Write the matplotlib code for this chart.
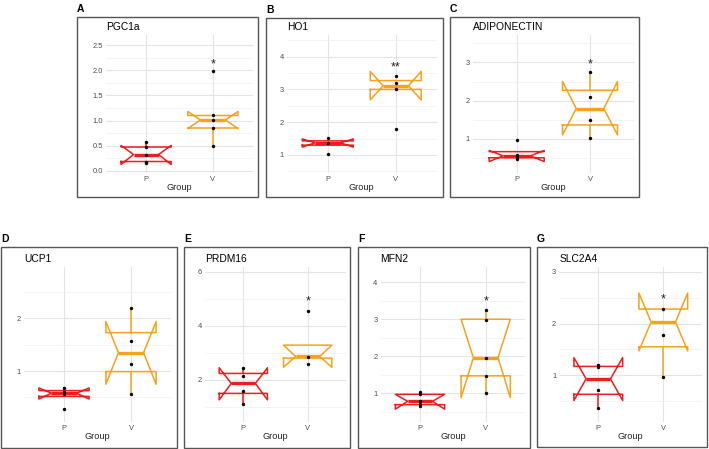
import matplotlib
matplotlib.use('Agg')
import matplotlib.pyplot as plt
import matplotlib.ticker as tic
from matplotlib.patches import Rectangle

plt.rcParams['font.family'] = ['Liberation Sans', 'DejaVu Sans']

# ---- data ----
letters = ['A', 'B', 'C', 'D', 'E', 'F', 'G']
genes = ['PGC1a', 'HO1', 'ADIPONECTIN', 'UCP1', 'PRDM16', 'MFN2', 'SLC2A4']
groups = ['P', 'V']

p_points = [[0.15, 0.17, 0.32, 0.48, 0.58],
            [1.02, 1.37, 1.53],
            [0.47, 0.52, 0.57, 0.97],
            [0.29, 0.57, 0.61, 0.68],
            [1.09, 1.58, 2.15, 2.44],
            [0.65, 0.72, 0.78, 0.97, 1.02],
            [0.37, 0.72, 1.15, 1.19]]
v_points = [[0.50, 0.85, 1.01, 1.10, 1.98],
            [1.78, 3.00, 3.20, 3.41],
            [1.01, 1.49, 2.10, 2.75],
            [0.56, 1.13, 1.58, 2.19],
            [2.57, 2.85, 4.54],
            [1.00, 1.47, 1.96, 2.98, 3.25],
            [0.97, 1.77, 2.28]]

# box stats: whislo, q1, med, q3, whishi, notch low, notch high
p_box = [(0.15, 0.18, 0.32, 0.47, 0.58, 0.12, 0.50),
         (1.30, 1.30, 1.37, 1.43, 1.43, 1.24, 1.49),
         (0.50, 0.50, 0.55, 0.66, 0.66, 0.40, 0.69),
         (0.52, 0.52, 0.58, 0.63, 0.68, 0.47, 0.68),
         (1.09, 1.49, 1.86, 2.23, 2.44, 1.25, 2.44),
         (0.69, 0.69, 0.78, 0.97, 0.97, 0.57, 0.97),
         (0.37, 0.63, 0.93, 1.17, 1.19, 0.51, 1.34)]
v_box = [(0.50, 0.85, 1.01, 1.10, 1.10, 0.84, 1.18),
         (3.00, 3.00, 3.11, 3.27, 3.27, 2.68, 3.55),
         (1.01, 1.36, 1.79, 2.27, 2.75, 1.10, 2.50),
         (0.56, 0.99, 1.35, 1.73, 2.19, 0.75, 1.94),
         (2.80, 2.80, 2.86, 3.28, 3.28, 2.46, 3.28),
         (1.00, 1.47, 1.96, 3.00, 3.25, 0.88, 3.00),
         (0.97, 1.55, 2.03, 2.28, 2.28, 1.47, 2.59)]

stars = ['*', '**', '*', '', '*', '*', '*']
star_y = [2.13, 3.66, 2.95, 0, 4.89, 3.48, 2.46]

y_lims = [(-0.05, 2.71), (0.45, 4.66), (0.10, 3.72), (0.04, 2.98),
          (0.44, 6.19), (0.23, 4.42), (0.10, 3.10)]
y_step = [0.5, 1, 1, 1, 2, 1, 1]
y_fmt = ['%.1f', '%d', '%d', '%d', '%d', '%d', '%d']

# ---- layout (pixels) ----
W, H = 709, 449
frames = [(77, 17, 258, 197), (266, 18, 443, 197), (450, 17, 639, 197),
          (1, 247, 177, 448), (184, 247, 350, 448), (358, 247, 530, 448),
          (537, 247, 707, 447)]
ax_x = [(106, 253), (287, 436.5), (472.7, 634), (23.8, 171.2),
        (204.7, 346.3), (380.6, 525.1), (559.3, 702.3)]
ax_y = [(35, 173)] * 3 + [(266.7, 421.7)] * 4

colors = ['#ee1c1c', '#f7a21b']

fig = plt.figure(figsize=(W / 100, H / 100), dpi=100)

for i in range(len(genes)):
    x0, x1 = ax_x[i]
    y0, y1 = ax_y[i]
    ax = fig.add_axes([x0 / W, 1 - y1 / H, (x1 - x0) / W, (y1 - y0) / H])

    for k, (box, pts) in enumerate([(p_box[i], p_points[i]), (v_box[i], v_points[i])]):
        lo, q1, med, q3, hi, clo, chi = box
        st = [dict(whislo=lo, q1=q1, med=med, q3=q3, whishi=hi,
                   cilo=clo, cihi=chi, fliers=[], label=groups[k])]
        c = colors[k]
        ax.bxp(st, positions=[k + 1], widths=0.75, shownotches=True,
               showcaps=False, showfliers=False, manage_ticks=False,
               boxprops=dict(color=c, lw=1.1),
               whiskerprops=dict(color=c, lw=1.1),
               medianprops=dict(color=c, lw=2.4, solid_capstyle='butt'))
        ax.scatter([k + 1] * len(pts), pts, s=6, color='black', zorder=5,
                   linewidths=0)

    if stars[i]:
        ax.text(2, star_y[i], stars[i], ha='center', va='center',
                fontsize=9, color='#222222')

    ax.set_xlim(0.4, 2.6)
    ax.set_ylim(y_lims[i])
    ax.set_xticks([1, 2])
    ax.set_xticklabels(groups)
    ax.yaxis.set_major_locator(tic.MultipleLocator(y_step[i]))
    ax.yaxis.set_minor_locator(tic.MultipleLocator(y_step[i] / 2))
    ax.yaxis.set_major_formatter(tic.FormatStrFormatter(y_fmt[i]))
    ax.grid(True, which='major', color='#e4e4e4', lw=0.8)
    ax.grid(True, which='minor', axis='y', color='#efefef', lw=0.5)
    ax.set_axisbelow(True)
    for s in ax.spines.values():
        s.set_visible(False)
    ax.tick_params(which='both', length=0, labelsize=5.4,
                   labelcolor='#4d4d4d', pad=2.2)

    # panel frame, title, letter and x label
    fx0, fy0, fx1, fy1 = frames[i]
    fig.patches.append(Rectangle((fx0 / W, 1 - fy1 / H), (fx1 - fx0) / W,
                                 (fy1 - fy0) / H, transform=fig.transFigure,
                                 fill=False, edgecolor='#555555', lw=1.0))
    fig.text(fx0 / W, 1 - (fy0 - 8) / H, letters[i], fontsize=7.5,
             fontweight='bold', ha='left', va='center')
    fig.text(x0 / W, 1 - (y0 - 8) / H, genes[i], fontsize=7.4,
             ha='left', va='center')
    fig.text((x0 + x1) / 2 / W, 1 - (y1 + 15) / H, 'Group', fontsize=6.6,
             ha='center', va='center', color='#222222')

fig.savefig('out.png', dpi=100)
